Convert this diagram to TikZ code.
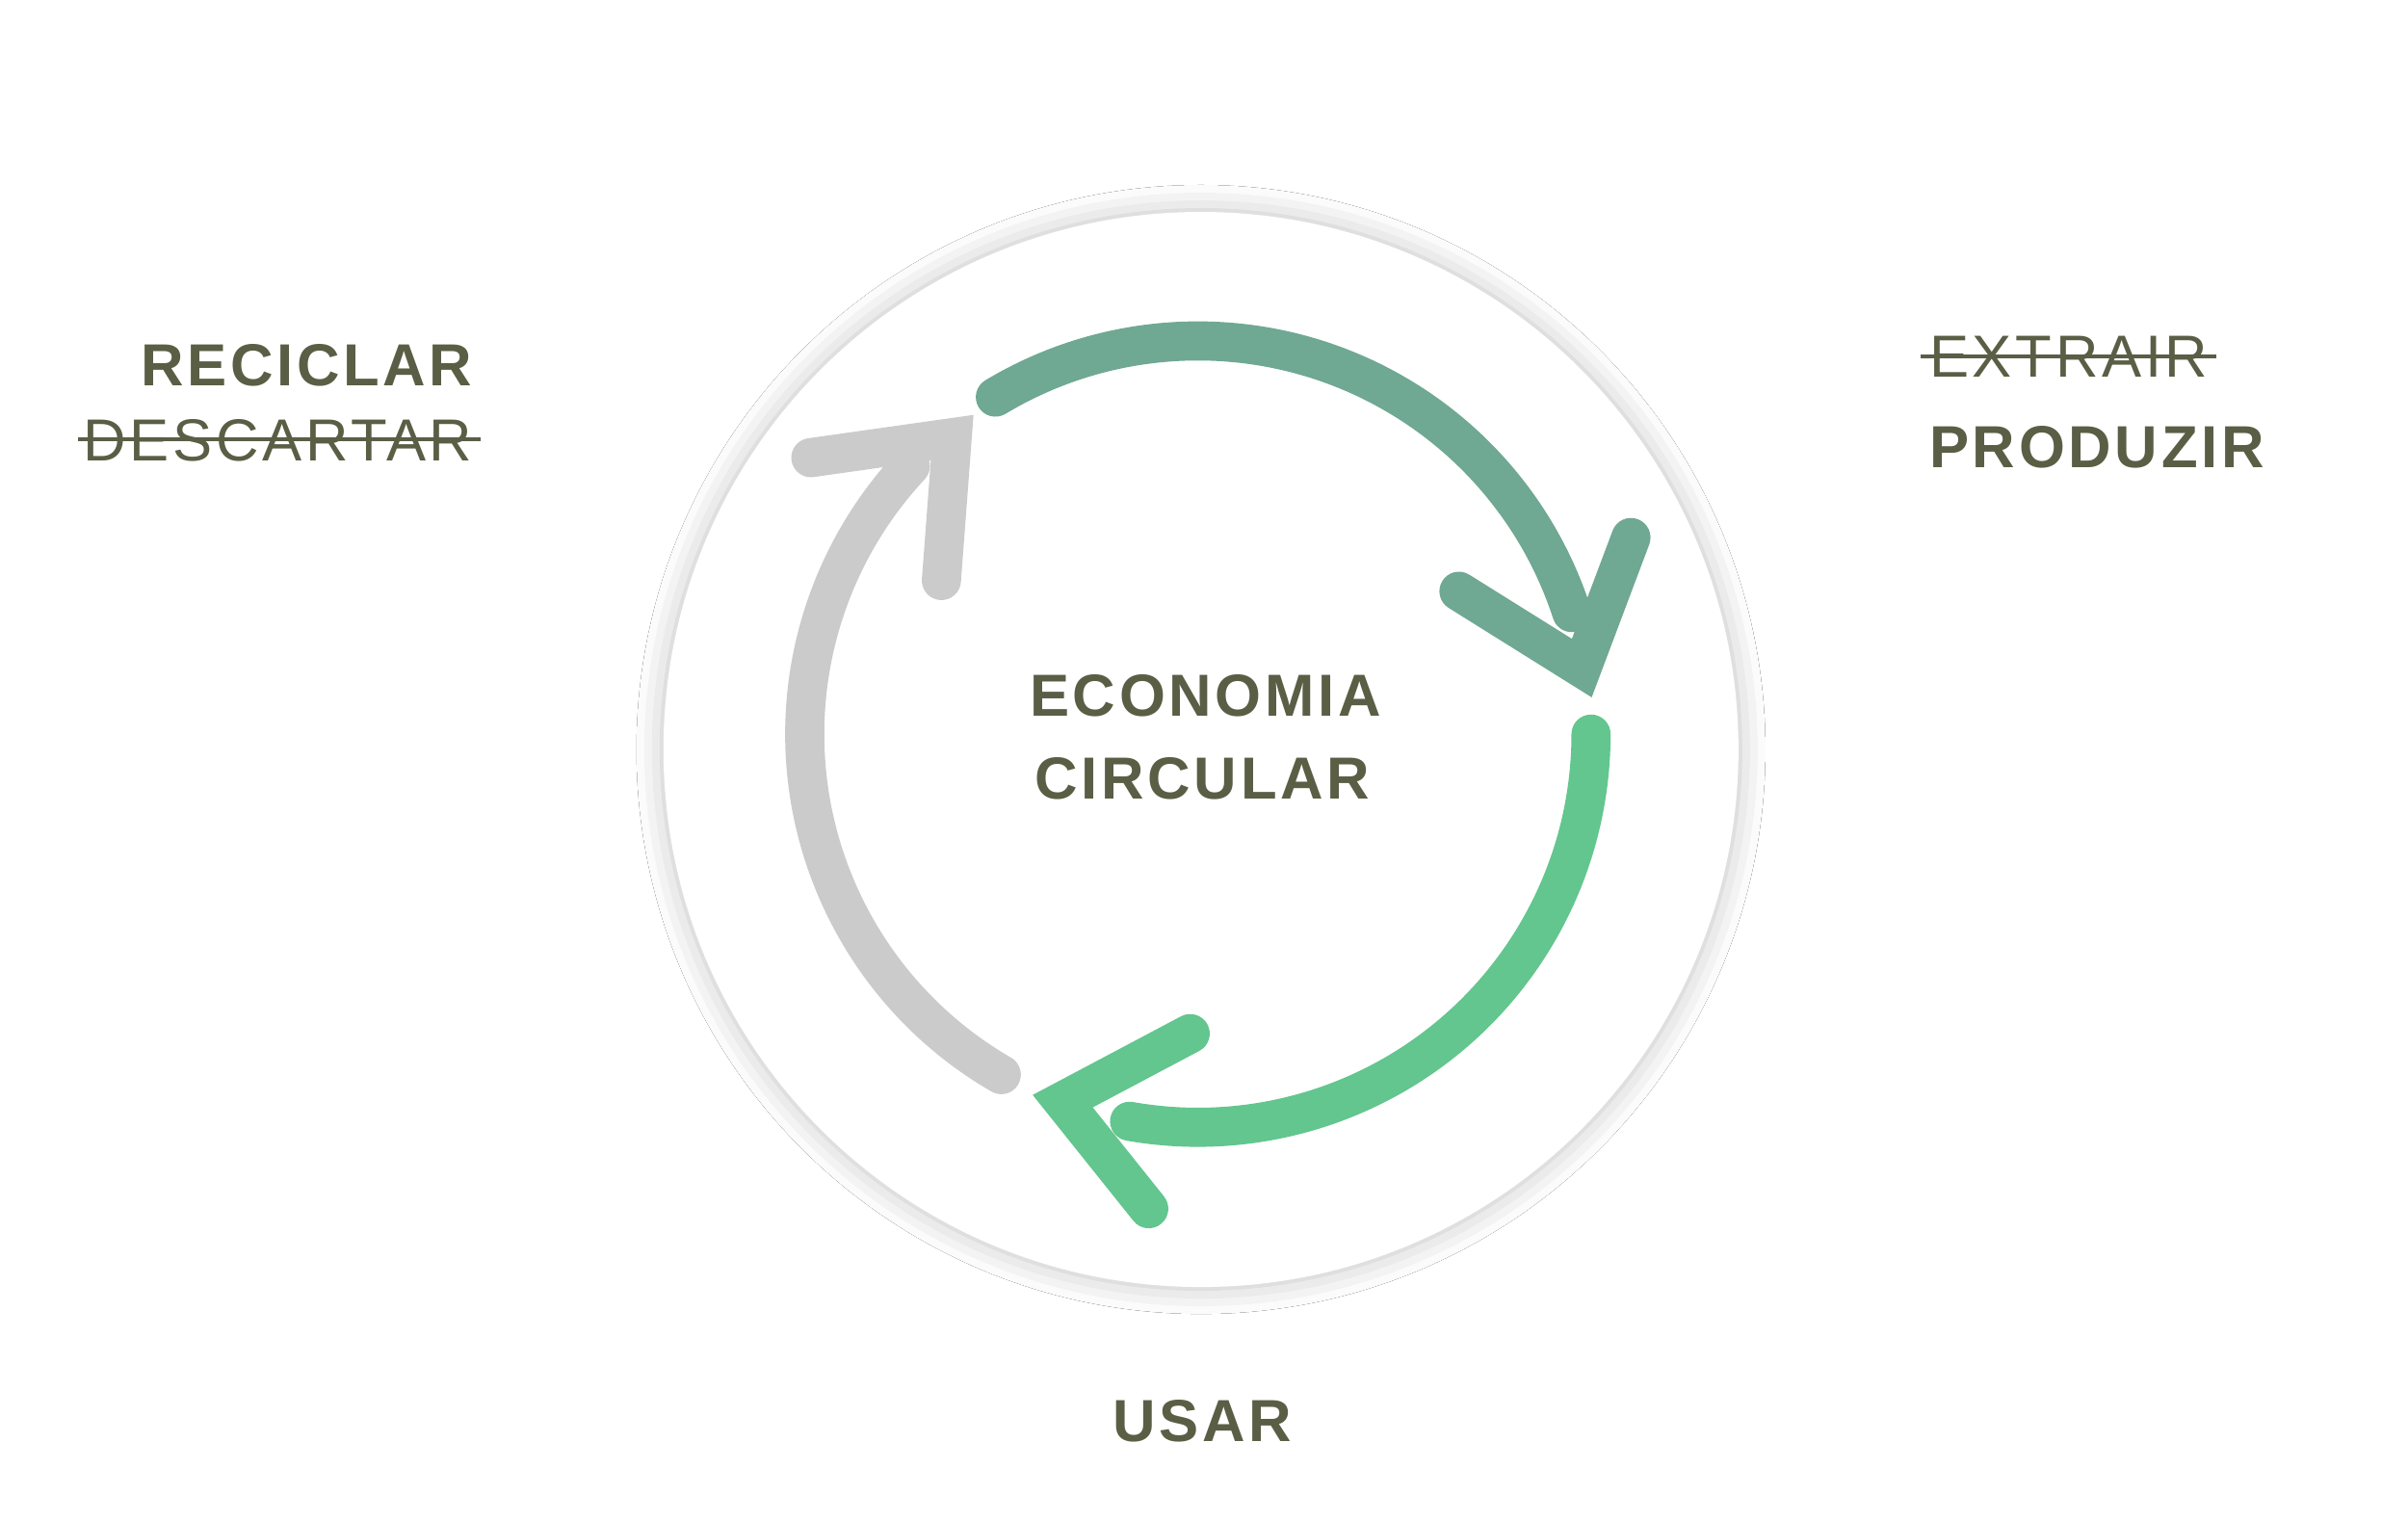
\documentclass[tikz,border=0pt]{standalone}
\usepackage{fontspec}
\setmainfont{Liberation Sans}
\usetikzlibrary{shadows.blur}
\definecolor{olive}{HTML}{5A5E45}
\definecolor{teal1}{HTML}{6FA893}
\definecolor{green1}{HTML}{62C68E}
\definecolor{gray1}{HTML}{CBCBCB}
\tikzset{
 lbl/.style={font=\fontsize{22}{24}\selectfont\bfseries\addfontfeatures{LetterSpace=6}, text=olive, inner sep=0},
 strk/.style={font=\fontsize{22}{24}\selectfont\addfontfeatures{LetterSpace=6}, text=olive, inner sep=0},
 arr/.style={line width=14.5pt, line cap=round, line join=miter}
}
\begin{document}
\begin{tikzpicture}[x=0.02cm,y=0.02cm]
\useasboundingbox (0,0) rectangle (1568,990);
\fill[white] (0,0) rectangle (1568,990);
\fill[white, blur shadow={shadow xshift=0pt, shadow yshift=0pt, shadow blur radius=10pt, shadow opacity=25}] (782,502) circle (350);
% teal
\draw[arr, teal1] (780,512) ++(121:256) arc[start angle=121, end angle=18, radius=256];
\draw[arr, teal1, line join=miter] (950,605) -- (1030,555) -- (1062,640);
% green
\draw[arr, green1] (780,512) ++(0:256) arc[start angle=0, end angle=-100, radius=256];
\draw[arr, green1] (775,317) -- (692,273) -- (748,203);
% gray
\draw[arr, gray1] (780,512) ++(240:256) arc[start angle=240, end angle=137, radius=256];
\draw[arr, gray1] (528,692) -- (620,705) -- (613,612);
% texts
\node[lbl] (eco) at (785,537) {ECONOMIA};
\node[lbl] (cir) at (783,483) {CIRCULAR};
\node[lbl,anchor=east] (rec) at (308,752) {RECICLAR};
\node[strk,anchor=east] (des) at (308,703) {DESCARTAR};
\draw[olive, line width=1.2pt] (des.west) ++(-3,1) -- ([xshift=3]des.east |- 0,704);
\node[strk,anchor=west] (ext) at (1256,758) {EXTRAIR};
\draw[olive, line width=1.2pt] ([xshift=-3]ext.west |- 0,758) -- ([xshift=3]ext.east |- 0,758);
\node[lbl,anchor=west] (pro) at (1256,699) {PRODUZIR};
\node[lbl] (usa) at (783,65) {USAR};
\end{tikzpicture}
\end{document}
